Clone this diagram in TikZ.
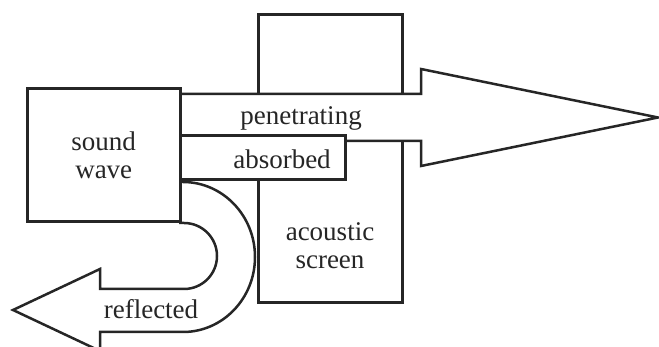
\documentclass[tikz,border=0pt]{standalone}
\usepackage{fontspec}
\setmainfont{Liberation Serif}
\begin{document}
\begin{tikzpicture}[x=0.5pt,y=0.5pt,
  outline/.style={draw=black!85,line width=1.25pt,fill=white,line join=miter},
  label/.style={font=\fontsize{13.5}{14}\selectfont,text=black!85,inner sep=0pt,align=center}]
\useasboundingbox (0,0) rectangle (659,347);

% acoustic screen
\node[outline,rectangle,minimum width=72pt,minimum height=144pt,anchor=south west] (screen) at (257,43) {};

% penetrating arrow through the screen
\draw[outline] (179,253) -- (421,253) -- (421,278) -- (658,229.5) -- (421,181) -- (421,206) -- (179,206) -- cycle;

% absorbed part
\node[outline,rectangle,minimum width=82.5pt,minimum height=22pt,anchor=south west] (absorbed) at (179,166) {};

% reflected U-turn arrow
\draw[outline] (179,165) -- (183,165) arc[start angle=90,end angle=-90,x radius=72,y radius=75]
  -- (100,15) -- (100,-4) -- (13,37) -- (100,78) -- (100,58) -- (184,58)
  arc[start angle=-90,end angle=90,radius=33] -- (179,124);

% sound wave source
\node[outline,rectangle,minimum width=76.5pt,minimum height=66.5pt,anchor=south west] (source) at (26,124) {};

% labels
\node[label] (tsource) at (source.center) {sound\\wave};
\node[label] (tpen) at (301,229) {penetrating};
\node[label] (tabs) at (282,188) {absorbed};
\node[label] (tscreen) at (330,101) {acoustic\\screen};
\node[label] (tref) at (151,38) {reflected};
\end{tikzpicture}
\end{document}
